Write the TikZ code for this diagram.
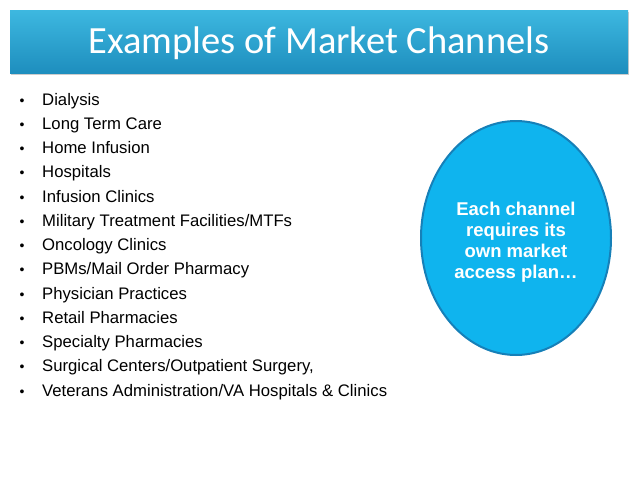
\documentclass[tikz,border=0pt]{standalone}
\usepackage{fontspec}
\setmainfont{Liberation Sans}
\newfontfamily\titlefont{Carlito}
\usetikzlibrary{shapes.geometric, shadows}
\definecolor{bannertop}{HTML}{3DB8E0}
\definecolor{bannerbot}{HTML}{1E8EBE}
\definecolor{ovalfill}{HTML}{0FB4EE}
\definecolor{ovaledge}{HTML}{1680B8}
\begin{document}
\begin{tikzpicture}[x=1pt, y=-1pt,
	item/.style={anchor=base west, font=\fontsize{16.7}{18}\selectfont, inner sep=0pt},
	dot/.style={anchor=base, font=\fontsize{14}{18}\selectfont, inner sep=0pt}]
	
	\useasboundingbox (0,0) rectangle (638,479);
	
	% title banner
	\shade[top color=bannertop, bottom color=bannerbot, drop shadow={shadow xshift=1pt, shadow yshift=-2pt, opacity=0.4}]
	(10,10) rectangle (628,73);
	\node[text=white, font=\titlefont\fontsize{38.5}{40}\selectfont] (title) at (319,43) {Examples of Market Channels};
	
	% bullet list
	\foreach \txt [count=\i] in {Dialysis, Long Term Care, Home Infusion, Hospitals, Infusion Clinics,
		Military Treatment Facilities/MTFs, Oncology Clinics, PBMs/Mail Order Pharmacy,
		Physician Practices, Retail Pharmacies, Specialty Pharmacies,
		{Surgical Centers/Outpatient Surgery,}, Veterans Administration/VA Hospitals \& Clinics}
	{
		\node[dot] (b\i) at (22,{105+24.25*(\i-1)}) {\textbullet};
		\node[item] (t\i) at (42,{105+24.25*(\i-1)}) {\txt};
	}
	
	% oval
	\node[ellipse, minimum width=190pt, minimum height=234pt, fill=ovalfill, draw=ovaledge, line width=2pt] (oval) at (516,238) {};
	\node[text=white, align=center, font=\bfseries\fontsize{18.5}{21}\selectfont] (note) at (516,242)
	{Each channel\\requires its\\own market\\access plan\ldots};
	
\end{tikzpicture}
\end{document}
